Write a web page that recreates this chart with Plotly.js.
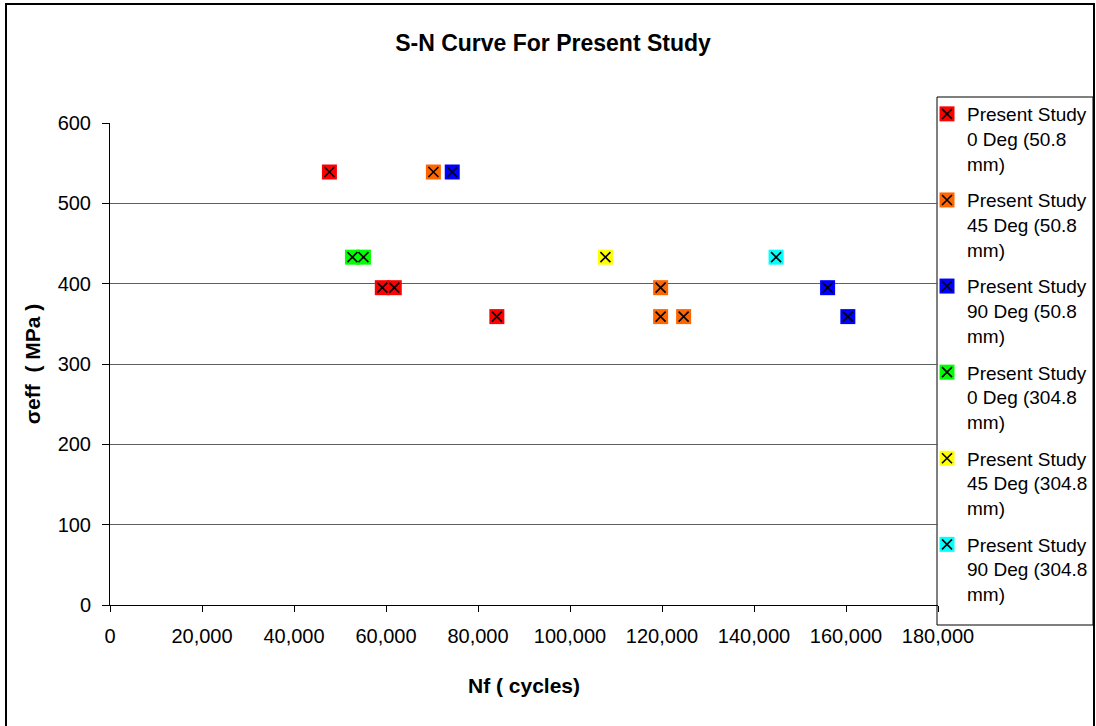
<!DOCTYPE html>
<html>
<head>
<meta charset="utf-8">
<script src="https://cdn.plot.ly/plotly-3.0.1.min.js"></script>
<style>html,body{margin:0;padding:0;background:#fff;}#chart{width:1096px;height:726px;}</style>
</head>
<body>
<div id="chart"></div>
<script>
// ---- data ----
const seriesNames = [
  "Present Study<br>0 Deg (50.8<br>mm)",
  "Present Study<br>45 Deg (50.8<br>mm)",
  "Present Study<br>90 Deg (50.8<br>mm)",
  "Present Study<br>0 Deg (304.8<br>mm)",
  "Present Study<br>45 Deg (304.8<br>mm)",
  "Present Study<br>90 Deg (304.8<br>mm)"
];
const red_x    = [47700, 59200, 61800, 84100];
const red_y    = [539, 395, 395, 359];
const orange_x = [70300, 119700, 119700, 124700];
const orange_y = [539, 395, 359, 359];
const blue_x   = [74400, 156000, 160400];
const blue_y   = [539, 395, 359];
const green_x  = [52700, 55100];
const green_y  = [433, 433];
const yellow_x = [107700];
const yellow_y = [433];
const cyan_x   = [144800];
const cyan_y   = [433];
const xTickVals = [0, 20000, 40000, 60000, 80000, 100000, 120000, 140000, 160000, 180000];
const xTickText = ["0", "20,000", "40,000", "60,000", "80,000", "100,000", "120,000", "140,000", "160,000", "180,000"];
const yTickVals = [0, 100, 200, 300, 400, 500, 600];

// ---- styling ----
const FONT = "'Liberation Sans', Arial, sans-serif";
const colors = ["#ff0000", "#ff6600", "#0000ff", "#00ff00", "#ffff00", "#00ffff"];
const xs = [red_x, orange_x, blue_x, green_x, yellow_x, cyan_x];
const ys = [red_y, orange_y, blue_y, green_y, yellow_y, cyan_y];

const traces = [];
for (let i = 0; i < xs.length; i++) {
  traces.push({
    type: "scatter", mode: "markers", x: xs[i], y: ys[i], name: seriesNames[i],
    legend: "legend", legendgroup: "g" + i,
    marker: {symbol: "square", size: 15, color: colors[i], line: {width: 0}},
    cliponaxis: false, hoverinfo: "x+y"
  });
}
for (let i = 0; i < xs.length; i++) {
  traces.push({
    type: "scatter", mode: "markers", x: xs[i], y: ys[i], name: seriesNames[i],
    legend: "legend2", legendgroup: "g" + i,
    marker: {symbol: "x-thin-open", size: 10, color: "#000", line: {width: 1.6, color: "#000"}},
    cliponaxis: false, hoverinfo: "skip"
  });
}

// plot area in px: x 110..938, y 123..605
const L = 110, R = 938, T = 123, B = 605, W = 1096, H = 726;
const px = v => (v - L) / (R - L);
const py = v => (B - v) / (B - T);

const legendCommon = {
  xref: "container", yref: "container",
  x: 927 / W, y: 1 - 95 / H, xanchor: "left", yanchor: "top",
  valign: "top", borderwidth: 0, tracegroupgap: 9,
  itemsizing: "trace", traceorder: "grouped", maxheight: 650,
  bgcolor: "rgba(0,0,0,0)"
};

const layout = {
  width: W, height: H,
  margin: {l: L, r: W - R, t: T, b: H - B, pad: 0, autoexpand: false},
  paper_bgcolor: "#fff", plot_bgcolor: "#fff",
  font: {family: FONT, size: 20, color: "#000"},
  title: {
    text: "<b>S-N Curve For Present Study</b>",
    font: {family: FONT, size: 23, color: "#000"},
    xref: "paper", x: px(553), xanchor: "center",
    yref: "container", y: 1 - 43 / H, yanchor: "middle"
  },
  xaxis: {
    range: [0, 180000], tickvals: xTickVals, ticktext: xTickText,
    showgrid: false, zeroline: false,
    showline: true, linecolor: "#000", linewidth: 1,
    ticks: "outside", ticklen: 6, tickcolor: "#000",
    ticklabelstandoff: 7,
    tickfont: {family: FONT, size: 20, color: "#000"},
    title: {text: "<b>Nf ( cycles)</b>", font: {family: FONT, size: 21, color: "#000"}, standoff: 32},
    fixedrange: true
  },
  yaxis: {
    range: [0, 600], tickvals: yTickVals,
    showgrid: true, gridcolor: "#606060", gridwidth: 1,
    zeroline: false,
    showline: true, linecolor: "#000", linewidth: 1,
    ticks: "outside", ticklen: 7, tickcolor: "#000",
    ticklabelstandoff: 7,
    tickfont: {family: FONT, size: 20, color: "#000"},
    title: {text: "<b>σeff  ( MPa )</b>", font: {family: FONT, size: 21, color: "#000"}, standoff: 11},
    fixedrange: true
  },
  legend: Object.assign({}, legendCommon, {
    font: {family: FONT, size: 19, color: "#000"}
  }),
  legend2: Object.assign({}, legendCommon, {
    font: {family: FONT, size: 19, color: "rgba(0,0,0,0)"}
  }),
  shapes: [
    {
      type: "rect", xref: "paper", yref: "paper",
      x0: px(6), x1: px(1094), y0: py(740), y1: py(4),
      line: {color: "#000", width: 2}, fillcolor: "rgba(0,0,0,0)", layer: "below"
    },
    {
      type: "rect", xref: "paper", yref: "paper",
      x0: px(937), x1: px(1093), y0: py(625), y1: py(97),
      line: {color: "#000", width: 1}, fillcolor: "rgba(0,0,0,0)", layer: "below"
    }
  ],
  showlegend: true
};

Plotly.newPlot("chart", traces, layout, {displayModeBar: false, staticPlot: true});
</script>
</body>
</html>
